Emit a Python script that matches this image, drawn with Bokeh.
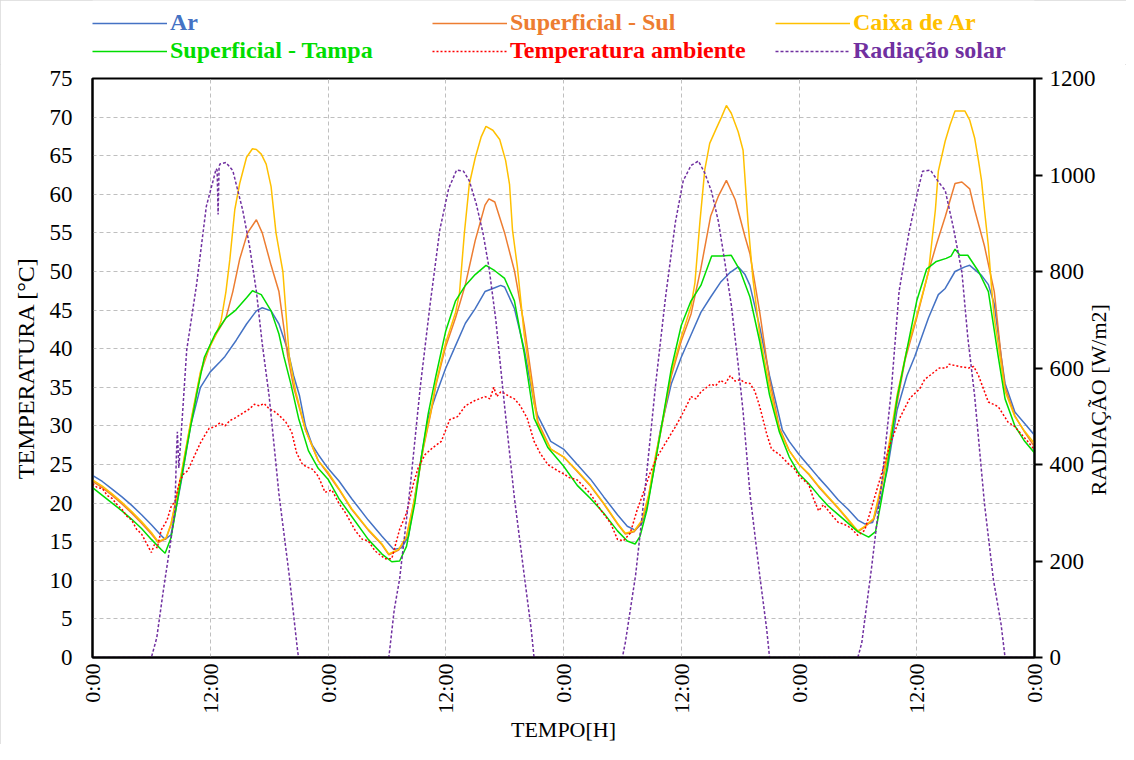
from math import pi
from bokeh.plotting import figure
from bokeh.layouts import column
from bokeh.models import Range1d, LinearAxis, FixedTicker, Legend, LegendItem
from bokeh.embed import file_html
from bokeh.resources import INLINE

# ---------------- data (hours since start, values) ----------------
ar_h = [0, 1, 2, 3, 4, 5, 6, 7, 7.4, 8, 9, 10, 11, 12, 13, 13.5, 14.65, 15.7, 16.7, 17.3, 18.2, 19.0, 19.9, 20.5, 21.1, 21.7, 22.4, 23, 24,
        25.1, 26.4, 28.1, 29.5, 30.7, 31.5, 32.2, 32.85, 33.5, 34.2, 35, 36, 37, 38, 39, 40, 41, 41.6, 42, 43, 44, 45, 45.35, 46.7, 48,
        49.4, 50.75, 52.1, 53.5, 54.5, 55.3, 56, 56.5, 57.2, 57.85, 59, 60, 61, 62, 63, 64, 65, 65.8, 66.5, 67, 68, 69, 70.3, 71, 72,
        73, 74, 75, 76, 77, 78, 78.7, 79.5, 80.4, 81, 82, 83, 83.8, 85.2, 86.2, 86.9, 87.9, 88.9, 89.4, 90.6, 91.3, 91.9, 92.6, 93, 94, 95, 96]
ar_t = [23.6, 22.8, 21.8, 20.8, 19.7, 18.5, 17.2, 15.8, 15.3, 15.9, 22.5, 30.0, 35.0, 37.0, 38.3, 39.0, 41.1, 43.2, 44.9, 45.3, 44.9, 43.2, 39.8, 36.5, 33.9, 30.0, 27.5, 26.3, 24.5,
        22.9, 20.6, 17.8, 15.7, 14.0, 14.2, 15.7, 20.8, 25.9, 31.0, 34.0, 37.5, 40.4, 43.3, 45.2, 47.4, 47.9, 48.2, 48.0, 45.2, 39.9, 33.0, 31.4, 28.0, 27.0,
        25.0, 23.1, 20.8, 18.5, 17.0, 16.5, 17.4, 19.5, 24.2, 29.3, 35.5, 38.9, 41.8, 44.7, 46.7, 48.6, 49.9, 50.6, 49.6, 48.2, 42.8, 36.5, 29.5, 28.0, 26.3,
        24.8, 23.3, 21.9, 20.4, 19.2, 17.8, 17.3, 17.5, 20.9, 24.3, 32.1, 36.5, 39.0, 44.0, 47.0, 47.8, 50.0, 50.6, 50.8, 49.5, 48.3, 45.8, 39.0, 35.5, 31.8, 30.3, 28.8]

sul_h = [0, 1, 2, 3, 4, 5, 6, 6.7, 7.5, 8, 9, 10, 11, 12, 12.6, 13.6, 14.3, 15.0, 15.8, 16.7, 17.3, 18.2, 19.0, 19.9, 20.5, 21.7, 23, 24,
         25.1, 26.4, 28.1, 29.5, 30.2, 31.2, 32, 32.85, 33.7, 34.5, 35, 36, 37, 38, 39, 40, 40.4, 41, 42, 43, 44, 45, 45.4, 46.7, 48,
         49.4, 50.75, 52.1, 53.5, 54.3, 55.2, 56, 56.7, 57.4, 58, 59, 60, 61, 62, 63, 63.8, 64.6, 65.5, 66.5, 67, 68, 69, 70, 71, 72,
         73, 74, 75, 76, 77, 78, 78.7, 79.6, 80.4, 81, 82, 82.8, 84, 85.2, 86, 86.9, 87.9, 88.6, 89.4, 89.9, 90.9, 91.9, 92.6, 93, 94, 95, 96]
sul_t = [22.8, 22.0, 21.0, 19.9, 18.7, 17.4, 16.0, 14.9, 15.4, 17.2, 23.3, 30.3, 36.8, 40.5, 41.9, 44.0, 47.4, 51.6, 55.0, 56.7, 55.0, 50.8, 47.4, 39.0, 35.0, 29.5, 25.5, 23.8,
         21.8, 19.2, 16.5, 14.6, 13.3, 13.9, 15.6, 20.6, 27.0, 31.8, 35.3, 40.3, 44.0, 48.3, 54.0, 58.6, 59.4, 59.0, 55.0, 50.1, 43.0, 34.0, 30.5, 27.0, 26.0,
         24.1, 22.2, 19.9, 17.3, 16.0, 16.3, 17.6, 21.0, 26.0, 29.8, 36.5, 41.0, 44.5, 50.4, 57.2, 59.8, 61.8, 59.3, 54.5, 52.3, 44.7, 36.0, 29.8, 26.8, 25.0,
         23.7, 22.1, 20.7, 19.3, 17.8, 16.3, 16.9, 17.9, 22.0, 25.8, 33.0, 38.5, 44.0, 50.0, 53.5, 57.1, 61.4, 61.6, 60.7, 58.0, 53.3, 47.4, 39.0, 35.0, 31.3, 29.2, 27.3]

caixa_h = [0, 1, 2, 3, 4, 5, 6, 6.7, 7.5, 8, 9, 10, 11, 11.5, 12.6, 13.1, 13.6, 14.0, 14.5, 15.0, 15.7, 16.3, 16.7, 17.2, 17.7, 18.2, 18.7, 19.4, 20.05, 20.7, 21.7, 23, 24,
           25.1, 26.4, 28.1, 29.5, 30.2, 31.2, 32, 32.85, 33.7, 34.5, 35, 36, 37, 37.4, 37.9, 38.4, 39, 39.6, 40.1, 40.8, 41.5, 42.1, 42.5, 42.8, 43.3, 44, 45, 45.4, 46.7, 48,
           49.4, 50.75, 52.1, 53.5, 54.3, 55.2, 56, 56.7, 57.4, 58, 59, 60, 61, 61.4, 61.9, 62.4, 62.9, 63.6, 64.1, 64.6, 65.1, 65.8, 66.3, 66.8, 67.3, 68, 69, 70, 71, 72,
           73, 74, 75, 76, 77, 78, 78.7, 79.6, 80.4, 81, 82, 83, 84, 85, 85.2, 85.9, 86.2, 86.9, 87.4, 87.9, 88.9, 89.4, 89.9, 90.3, 90.6, 90.9, 91.3, 91.6, 91.9, 93, 94, 95, 96]
caixa_t = [23.0, 22.2, 21.2, 20.1, 18.9, 17.6, 16.2, 15.0, 15.5, 17.3, 23.5, 30.5, 37.0, 39.0, 41.9, 43.6, 47.4, 51.6, 58.0, 61.4, 64.8, 65.9, 65.8, 65.2, 63.9, 61.0, 55.0, 50.0, 39.0, 34.5, 29.5, 25.5, 24.0,
           21.9, 19.3, 16.6, 14.7, 13.4, 14.0, 15.7, 20.8, 27.2, 32.0, 35.5, 40.8, 44.7, 47.2, 55.0, 61.3, 64.7, 67.4, 68.8, 68.3, 67.1, 64.4, 61.3, 55.4, 50.6, 41.8, 33.0, 30.1, 27.0, 26.0,
           24.2, 22.3, 20.0, 17.4, 16.1, 16.4, 17.8, 21.2, 26.3, 30.0, 37.0, 41.5, 45.5, 48.6, 56.4, 63.2, 66.6, 68.6, 70.0, 71.5, 70.5, 68.1, 65.7, 56.4, 49.1, 41.8, 35.0, 29.5, 26.8, 25.0,
           23.8, 22.2, 20.8, 19.4, 17.9, 16.4, 17.0, 18.0, 22.4, 26.3, 34.0, 39.9, 44.3, 49.0, 50.0, 58.0, 63.0, 66.9, 69.0, 70.8, 70.8, 69.6, 67.3, 64.3, 61.8, 58.0, 53.3, 48.3, 44.0, 34.5, 31.2, 29.3, 27.7]

tampa_h = [0, 1, 2, 3, 4, 5, 6, 7, 7.4, 8, 8.6, 9.6, 10.6, 11.4, 12.5, 13.6, 14.6, 15.7, 16.3, 17.2, 18.2, 19.0, 19.5, 20.2, 21, 22, 23, 24,
           25.1, 26.4, 28.1, 29.5, 30.5, 31.3, 32.0, 32.85, 33.5, 34.2, 35, 36, 37, 38, 39, 40.1, 41, 42, 43, 44, 45, 46.4, 48,
           49.4, 50.75, 52.1, 53.5, 54.5, 55.3, 55.8, 56.5, 57.2, 57.85, 59, 60, 61, 62, 63.1, 64.1, 65.1, 66, 67, 68, 69, 70, 71, 72,
           73, 74, 75, 76, 77, 78, 79.1, 79.8, 80.4, 81, 82, 83, 84, 85, 86, 87, 87.5, 87.9, 88.4, 89.2, 90.3, 91.3, 92.3, 93, 94, 95, 96]
tampa_t = [22.0, 21.0, 20.0, 19.0, 17.9, 16.7, 15.3, 14.0, 13.5, 15.5, 19.9, 27.2, 34.0, 38.9, 41.9, 44.0, 45.0, 46.6, 47.5, 47.0, 44.9, 41.9, 39.0, 35.5, 31.0, 26.8, 24.5, 23.1,
           20.6, 18.3, 15.3, 13.4, 12.4, 12.5, 14.4, 20.0, 25.9, 31.5, 36.5, 42.3, 46.2, 48.2, 49.6, 50.8, 50.1, 49.1, 46.2, 39.4, 31.0, 27.2, 24.8,
           22.3, 20.6, 18.7, 16.4, 15.1, 14.7, 15.7, 19.1, 24.2, 28.9, 37.5, 43.0, 46.2, 48.2, 52.0, 52.0, 52.1, 50.1, 46.7, 40.9, 34.0, 29.2, 26.0, 23.8,
           22.5, 21.0, 19.6, 18.5, 17.4, 16.3, 15.6, 16.3, 20.4, 24.8, 33.6, 39.9, 46.2, 50.3, 51.3, 51.7, 52.0, 52.9, 52.1, 52.1, 50.0, 47.4, 39.0, 33.5, 30.0, 28.0, 26.5]

amb_h = [0, 0.5, 1, 1.5, 2, 2.5, 3, 3.5, 4, 4.5, 5, 5.5, 6, 6.3, 6.6, 7, 7.6, 8, 8.4, 8.9, 9.3, 9.7, 10.2, 10.6, 11, 11.5, 11.9, 12.5, 13, 13.5,
         14, 14.5, 15, 15.5, 16, 16.5, 17, 17.5, 18, 18.5, 19, 19.7, 20.3, 20.8, 21.4, 22, 22.4, 23, 23.7,
         24.4, 25.1, 25.8, 26.8, 27.5, 28.1, 28.8, 29.8, 30.5, 31.3, 32, 32.7, 33.2, 33.9, 34.7, 35.55, 36.4, 37.2, 38, 39, 40, 40.5, 40.9,
         41.2, 41.6, 42, 42.5, 43, 43.6, 44.3, 45, 45.6, 46.4, 47.4, 48,
         48.6, 49.4, 50.1, 50.75, 51.8, 52.8, 53.5, 54.1, 54.8, 55.5, 56.1, 56.8, 57.5, 58.5, 59.5, 60.3, 61, 61.5, 62, 62.6, 63, 63.5,
         64, 64.5, 65, 65.5, 66, 66.5, 67, 67.5, 68, 68.7, 69.2, 70, 71, 71.5, 72,
         73, 73.5, 74, 74.5, 75, 75.5, 76, 76.5, 77, 77.5, 78, 78.7, 79.3, 80.3, 81.3, 82.3, 83.3, 84.3, 84.8, 85.3, 86.3, 87, 87.3,
         88.3, 89.3, 89.8, 90.3, 91.3, 92.3, 93.3, 94, 95.3, 96]
amb_t = [22.5, 22.0, 21.9, 21.0, 20.6, 19.8, 19.2, 18.3, 17.8, 16.6, 16.0, 14.8, 13.6, 14.6, 14.2, 16.5, 17.8, 19.5, 20.2, 22.9, 23.8, 24.2, 25.6, 26.7, 27.8, 28.9, 29.7, 29.9, 30.4, 30.0,
         30.7, 31.0, 31.4, 31.8, 32.2, 32.8, 32.6, 32.9, 32.2, 31.9, 31.4, 30.5, 29.2, 26.5, 25.0, 24.6, 24.4, 23.5, 21.4,
         21.7, 20.0, 18.7, 16.4, 15.3, 15.1, 13.8, 12.8, 12.8, 16.6, 18.7, 22.5, 24.6, 26.3, 27.2, 28.0, 30.8, 31.2, 32.6, 33.3, 33.8, 33.5, 35.0,
         33.8, 34.4, 34.2, 33.8, 33.5, 32.6, 31.0, 28.0, 26.5, 25.0, 24.2, 23.8,
         23.3, 23.0, 22.1, 21.2, 19.1, 17.4, 15.3, 15.1, 16.1, 19.1, 21.2, 23.8, 25.9, 28.0, 30.1, 32.0, 33.8, 33.5, 34.4, 35.0, 35.4, 35.2,
         35.9, 35.5, 36.5, 35.8, 36.0, 35.6, 35.5, 34.5, 32.5, 29.0, 27.0, 26.3, 25.0, 24.5, 23.5,
         22.4, 20.5, 19.0, 19.8, 19.0, 18.2, 17.5, 17.3, 17.0, 16.5, 15.8, 16.5, 19.0, 23.3, 27.7, 31.1, 33.6, 34.8, 36.0, 36.5, 37.5, 37.5, 38.0,
         37.7, 37.5, 37.7, 36.5, 33.1, 32.5, 30.5, 29.9, 28.0, 26.9]

rad_h = [0, 6.0, 6.55, 7.2, 7.9, 8.4, 8.55, 8.65, 8.8, 9.2, 9.6, 10.6, 11.6, 12.3, 12.6, 12.7, 12.8, 12.9, 13.0, 13.6, 14.3, 15.3, 16.0, 16.7, 17.3, 18.0, 19.0, 20.05, 20.9, 21.0,
         30.2, 30.75, 31.3, 32.4, 33.4, 34.4, 35.4, 36.3, 37.1, 37.8, 38.4, 39.1, 39.8, 40.4, 41.1, 42.0, 43.0, 44.0, 44.7, 45.0,
         54.0, 54.3, 55.35, 56.4, 57.4, 58.4, 59.4, 60.2, 61.0, 61.75, 62.4, 63.1, 63.8, 64.4, 65.1, 65.8, 66.3, 67.0, 68.0, 68.7, 69.0,
         78.0, 78.4, 79.4, 80.4, 81.4, 82.2, 83.2, 84.2, 84.6, 85.4, 86.2, 86.9, 87.7, 88.6, 89.2, 89.9, 90.9, 91.8, 92.6, 93.0, 96]
rad_w = [0, 0, 41, 136, 231, 305, 420, 468, 393, 513, 637, 772, 935, 989, 1013, 1010, 918, 1018, 1023, 1026, 1009, 928, 853, 759, 650, 542, 339, 170, 14, 0,
         0, 99, 163, 358, 560, 731, 887, 972, 1010, 1008, 988, 941, 879, 809, 700, 520, 330, 170, 60, 0,
         0, 31, 171, 366, 568, 747, 902, 988, 1020, 1029, 1004, 965, 902, 825, 731, 607, 510, 340, 170, 60, 0,
         0, 31, 187, 358, 552, 759, 880, 975, 1008, 1010, 986, 968, 894, 799, 664, 542, 319, 163, 68, 0, 0]

x_ticks = [0, 12, 24, 36, 48, 60, 72, 84, 96]
x_labels = ["0:00", "12:00", "0:00", "12:00", "0:00", "12:00", "0:00", "12:00", "0:00"]
y_ticks = [0, 5, 10, 15, 20, 25, 30, 35, 40, 45, 50, 55, 60, 65, 70, 75]
rad_ticks = [0, 200, 400, 600, 800, 1000, 1200]
rad_title_at = 336

names = ["Ar", "Superficial - Sul", "Caixa de Ar", "Superficial - Tampa", "Temperatura ambiente", "Radiação solar"]
colors = ["#4472C4", "#ED7D31", "#FFC000", "#00DD00", "#FF0000", "#7030A0"]
dashes = ["solid", "solid", "solid", "solid", "2 2", "3 2"]
series = [(ar_h, ar_t), (sul_h, sul_t), (caixa_h, caixa_t), (tampa_h, tampa_t), (amb_h, amb_t), (rad_h, rad_w)]

FONT = "Liberation Serif"
W = 1126
LEG_H = 64

# ---------------- main chart ----------------
p = figure(width=W, height=744 - LEG_H, output_backend="svg", toolbar_location=None,
           x_range=Range1d(0, 96), y_range=Range1d(0, 75),
           min_border_left=92, min_border_right=86, min_border_top=14, min_border_bottom=80)
p.extra_y_ranges = {"rad": Range1d(0, 1200)}
p.background_fill_color = "white"
p.border_fill_color = "white"
p.outline_line_color = "black"
p.outline_line_width = 2

p.xgrid.ticker = FixedTicker(ticks=x_ticks)
p.ygrid.ticker = FixedTicker(ticks=y_ticks)
for g in (p.xgrid[0], p.ygrid[0]):
    g.grid_line_color = "#BFBFBF"
    g.grid_line_dash = "4 3"
    g.grid_line_width = 1

xa = p.xaxis[0]
xa.ticker = FixedTicker(ticks=x_ticks)
xa.major_label_overrides = {t: lab for t, lab in zip(x_ticks, x_labels)}
xa.major_label_orientation = pi / 2
xa.major_tick_out = 0
xa.major_tick_in = 0
xa.minor_tick_line_color = None
xa.axis_line_color = "black"
xa.axis_line_width = 2
xa.major_label_text_font = FONT
xa.major_label_text_font_size = "22px"
xa.major_label_text_color = "black"
xa.major_label_standoff = 6
xa.axis_label = "TEMPO[H]"
xa.axis_label_text_font = FONT
xa.axis_label_text_font_size = "22px"
xa.axis_label_text_font_style = "normal"
xa.axis_label_text_color = "black"
xa.axis_label_standoff = 0

ya = p.yaxis[0]
ya.ticker = FixedTicker(ticks=y_ticks)
ya.major_tick_out = 0
ya.major_tick_in = 0
ya.minor_tick_line_color = None
ya.axis_line_color = "black"
ya.axis_line_width = 2
ya.major_label_text_font = FONT
ya.major_label_text_font_size = "23px"
ya.major_label_text_color = "black"
ya.major_label_standoff = 20
ya.axis_label = "TEMPERATURA [°C]"
ya.axis_label_text_font = FONT
ya.axis_label_text_font_size = "24px"
ya.axis_label_text_font_style = "normal"
ya.axis_label_text_color = "black"
ya.axis_label_standoff = 8

ra = LinearAxis(y_range_name="rad", ticker=FixedTicker(ticks=rad_ticks))
ra.major_tick_out = 8
ra.major_tick_in = 0
ra.major_tick_line_color = "black"
ra.major_tick_line_width = 2
ra.minor_tick_line_color = None
ra.axis_line_color = "black"
ra.axis_line_width = 2
ra.major_label_text_font = FONT
ra.major_label_text_font_size = "23px"
ra.major_label_text_color = "black"
ra.major_label_standoff = 7
p.add_layout(ra, "right")

# right-hand axis title, reading bottom-to-top
rt = LinearAxis(y_range_name="rad", ticker=FixedTicker(ticks=[rad_title_at]),
                major_label_overrides={rad_title_at: "RADIAÇÃO [W/m2]"})
rt.major_label_orientation = pi / 2
rt.axis_line_color = None
rt.major_tick_line_color = None
rt.minor_tick_line_color = None
rt.major_tick_out = 0
rt.major_tick_in = 0
rt.major_label_standoff = 0
rt.major_label_text_font = FONT
rt.major_label_text_font_size = "22px"
rt.major_label_text_color = "black"
p.add_layout(rt, "right")

for (hx, vy), col, dash in zip(series, colors, dashes):
    kw = {"y_range_name": "rad"} if vy is rad_w else {}
    p.line(hx, vy, line_color=col, line_width=1.5, line_dash=dash, **kw)

# ---------------- legend strip above ----------------
lf = figure(width=W, height=LEG_H, output_backend="svg", toolbar_location=None,
            x_range=Range1d(-20, -10), y_range=Range1d(-20, -10),
            x_axis_type=None, y_axis_type=None, min_border=0)
lf.outline_line_color = None
lf.xgrid.visible = False
lf.ygrid.visible = False
lf.background_fill_color = "white"
lf.border_fill_color = "white"

leg_pos = [(0, 28), (340, 28), (683, 28), (0, 0), (340, 0), (683, 0)]
for name, col, dash, (hx, vy), loc in zip(names, colors, dashes, series, leg_pos):
    rend = lf.line(hx, vy, line_color=col, line_width=1.5, line_dash=dash)
    lg = Legend(items=[LegendItem(label=name, renderers=[rend])], location=loc,
                orientation="horizontal", glyph_width=75, glyph_height=20, label_standoff=3,
                padding=0, margin=0, spacing=0, border_line_color=None,
                background_fill_alpha=0, label_height=20,
                label_text_font=FONT, label_text_font_size="24px",
                label_text_font_style="bold", label_text_color=col)
    lf.add_layout(lg)

layout = column(lf, p, spacing=0)
layout.styles = {"outline": "1px solid #D9D9D9", "outline-offset": "-1px"}

open("out.html", "w").write(file_html(layout, INLINE))
